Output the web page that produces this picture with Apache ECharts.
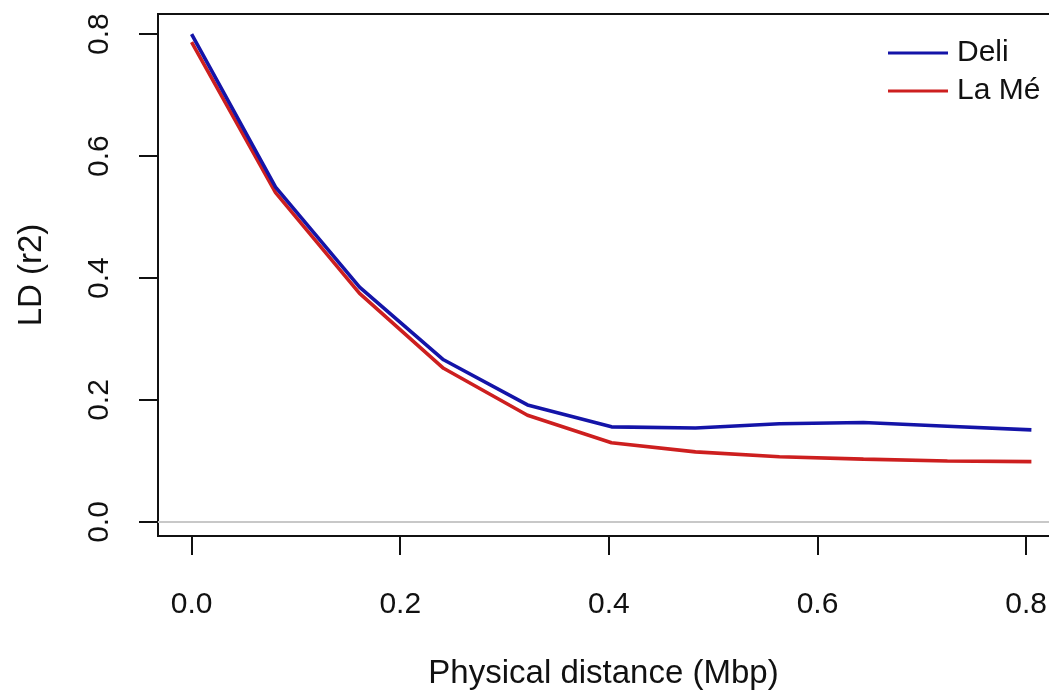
<!DOCTYPE html>
<html>
<head>
<meta charset="utf-8">
<script src="https://cdn.jsdelivr.net/npm/echarts@6/dist/echarts.min.js"></script>
<style>
html,body{margin:0;padding:0;background:#fff;}
#chart{width:1049px;height:691px;}
</style>
</head>
<body>
<div id="chart"></div>
<script>
// Physical distance (Mbp)
const distances = [0.0, 0.0805, 0.161, 0.2415, 0.322, 0.4025, 0.483, 0.5635, 0.644, 0.7245, 0.805];
// LD (r2) values
const deliValues = [0.800, 0.549, 0.385, 0.266, 0.192, 0.156, 0.154, 0.161, 0.163, 0.157, 0.151];
const laMeValues = [0.787, 0.540, 0.375, 0.252, 0.175, 0.130, 0.115, 0.107, 0.103, 0.100, 0.099];
const seriesNames = ['Deli', 'La Mé'];
const xTicks = [0.0, 0.2, 0.4, 0.6, 0.8];
const yTicks = [0.0, 0.2, 0.4, 0.6, 0.8];

const font = 'Liberation Sans, Arial, Helvetica, sans-serif';
const chart = echarts.init(document.getElementById('chart'), null, {renderer: 'canvas'});

function pairs(xs, ys) { return xs.map((x, i) => [x, ys[i]]); }

chart.setOption({
  animation: false,
  backgroundColor: '#ffffff',
  grid: {
    left: 158, top: 14, width: 907, height: 522,
    outerBoundsMode: 'none', containLabel: false,
    show: true, borderColor: '#111', borderWidth: 2, backgroundColor: 'transparent'
  },
  legend: {
    orient: 'vertical',
    left: 883, top: 29,
    itemWidth: 60, itemHeight: 3, itemGap: 0,
    icon: 'rect',
    textStyle: {fontFamily: font, fontSize: 30, color: '#111', lineHeight: 38, padding: [0, 0, 0, 4]},
    data: seriesNames
  },
  xAxis: {
    type: 'value',
    min: -0.0322, max: 0.8372,
    name: 'Physical distance (Mbp)',
    nameLocation: 'middle',
    nameGap: 121,
    nameTextStyle: {fontFamily: font, fontSize: 33, color: '#111', padding: [0, 16, 0, 0]},
    axisLine: {show: false, onZero: false},
    splitLine: {show: false},
    axisTick: {show: true, inside: false, customValues: xTicks, length: 19, lineStyle: {color: '#111', width: 2}},
    axisLabel: {customValues: xTicks, margin: 54, fontFamily: font, fontSize: 30, color: '#111',
      formatter: v => v.toFixed(1)}
  },
  yAxis: {
    type: 'value',
    min: -0.023, max: 0.833,
    name: 'LD (r2)',
    nameLocation: 'middle',
    nameRotate: 90,
    nameGap: 110,
    nameTextStyle: {fontFamily: font, fontSize: 33, color: '#111'},
    axisLine: {show: false, onZero: false},
    splitLine: {show: false},
    axisTick: {show: true, inside: false, customValues: yTicks, length: 19, lineStyle: {color: '#111', width: 2}},
    axisLabel: {customValues: yTicks, margin: 43, rotate: 90, fontFamily: font, fontSize: 30, color: '#111',
      formatter: v => v.toFixed(1)}
  },
  series: [
    {
      name: seriesNames[1], type: 'line', data: pairs(distances, laMeValues),
      showSymbol: false, symbol: 'none', z: 2,
      lineStyle: {color: '#cd1f1f', width: 3.6}, itemStyle: {color: '#cd1f1f'},
      markLine: {
        silent: true, symbol: ['none', 'none'], label: {show: false},
        lineStyle: {color: '#c8c8c8', width: 2, type: 'solid'},
        data: [{yAxis: 0}]
      }
    },
    {
      name: seriesNames[0], type: 'line', data: pairs(distances, deliValues),
      showSymbol: false, symbol: 'none', z: 3,
      lineStyle: {color: '#1414a8', width: 3.6}, itemStyle: {color: '#1414a8'}
    }
  ]
});
</script>
</body>
</html>
